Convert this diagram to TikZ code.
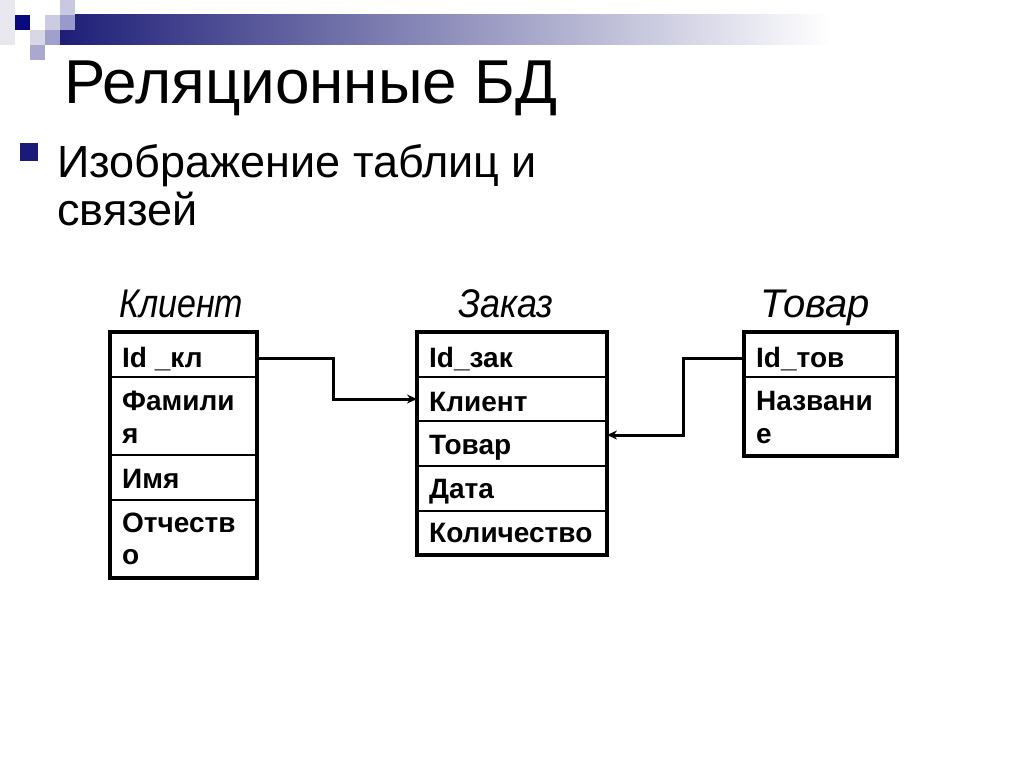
\documentclass[tikz,border=0pt]{standalone}
\usepackage{fontspec}
\usepackage{graphicx}
\setmainfont{Liberation Sans}
\usetikzlibrary{arrows.meta}
\definecolor{navy}{RGB}{26,26,120}
\definecolor{sqA}{RGB}{232,232,238}
\definecolor{sqB}{RGB}{10,10,128}
\definecolor{sqC}{RGB}{204,204,224}
\definecolor{sqD}{RGB}{200,200,224}
\definecolor{sqE}{RGB}{153,153,204}
\definecolor{sqF}{RGB}{216,216,228}
\definecolor{sqG}{RGB}{160,160,204}
\definecolor{sqH}{RGB}{168,168,208}
\definecolor{barL}{RGB}{30,30,120}
\definecolor{barM}{RGB}{190,190,210}
\begin{document}
\begin{tikzpicture}[x=1pt,y=-1pt,
  cell/.style={draw, line width=2pt, inner sep=0pt, outer sep=0pt, anchor=north west},
  frame/.style={draw, line width=3.5pt, inner sep=0pt, outer sep=0pt, anchor=north west},
  txt/.style={anchor=base west, inner sep=0pt, font=\bfseries\fontsize{28}{32}\selectfont},
  hdr/.style={anchor=base west, inner sep=0pt, font=\itshape\fontsize{40}{44}\selectfont},
  conn/.style={line width=3pt, -{Stealth[length=10pt,width=9pt]}}]
\useasboundingbox (0,0) rectangle (1024,768);
\fill[white] (0,0) rectangle (1024,768);
% decoration
\shade[left color=barL, middle color=barM, right color=white] (60,15) rectangle (830,45);
\fill[sqA] (0,0) rectangle (15,45);
\fill[sqB] (15,15) rectangle (30,30);
\fill[sqC] (45,15) rectangle (60,30);
\fill[sqD] (60,0) rectangle (75,15);
\fill[sqE] (60,15) rectangle (75,30);
\fill[sqF] (30,30) rectangle (45,45);
\fill[sqG] (45,30) rectangle (60,45);
\fill[sqH] (30,45) rectangle (45,60);
% title
\node[anchor=base west, inner sep=0pt, font=\fontsize{62}{66}\selectfont] (title) at (64,103) {Реляционные БД};
\node[fill=navy, minimum size=18pt, inner sep=0pt] (bul) at (29,152) {};
\node[anchor=base west, inner sep=0pt, font=\fontsize{45}{50}\selectfont] (b1) at (57,177) {Изображение таблиц и};
\node[anchor=base west, inner sep=0pt, font=\fontsize{45}{50}\selectfont] (b2) at (57,225) {связей};
% headers
\node[hdr] (hk) at (119,317) {\scalebox{0.85}[1]{Клиент}};
\node[hdr] (hz) at (458,317) {\scalebox{0.9}[1]{Заказ}};
\node[hdr] (ht) at (760,317) {Товар};
% Client table
\node[cell, minimum width=147pt, minimum height=45pt] (k1) at (110,332) {};
\node[cell, minimum width=147pt, minimum height=78pt] (k2) at (110,377) {};
\node[cell, minimum width=147pt, minimum height=45pt] (k3) at (110,455) {};
\node[cell, minimum width=147pt, minimum height=78pt] (k4) at (110,500) {};
\node[frame, minimum width=147pt, minimum height=246pt] (kf) at (110,332) {};
\node[txt] (k1t) at (122,367) {Id \_кл};
\node[txt] (k2t) at (122,410) {Фамили};
\node[txt] (k2u) at (122,443) {я};
\node[txt] (k3t) at (122,488) {Имя};
\node[txt] (k4t) at (122,532) {Отчеств};
\node[txt] (k4u) at (122,564) {о};
% Order table
\node[cell, minimum width=190pt, minimum height=45pt] (z1) at (417,332) {};
\node[cell, minimum width=190pt, minimum height=44pt] (z2) at (417,377) {};
\node[cell, minimum width=190pt, minimum height=45pt] (z3) at (417,421) {};
\node[cell, minimum width=190pt, minimum height=45pt] (z4) at (417,466) {};
\node[cell, minimum width=190pt, minimum height=44pt] (z5) at (417,511) {};
\node[frame, minimum width=190pt, minimum height=223pt] (zf) at (417,332) {};
\node[txt] (z1t) at (429,367) {Id\_зак};
\node[txt] (z2t) at (429,411) {Клиент};
\node[txt] (z3t) at (429,454) {Товар};
\node[txt] (z4t) at (429,498) {Дата};
\node[txt] (z5t) at (429,542) {Количество};
% Goods table
\node[cell, minimum width=153pt, minimum height=45pt] (t1) at (744,332) {};
\node[cell, minimum width=153pt, minimum height=79pt] (t2) at (744,377) {};
\node[frame, minimum width=153pt, minimum height=124pt] (tf) at (744,332) {};
\node[txt] (t1t) at (756,367) {Id\_тов};
\node[txt] (t2t) at (756,410) {Названи};
\node[txt] (t2u) at (756,443) {е};
% connectors
\draw[conn] ([yshift=-3.5pt]k1.east) -- ++(76,0) |- (z2.west);
\draw[conn] ([yshift=-3.5pt]t1.west) -- ++(-61,0) |- ([yshift=8.5pt]z3.east);
\end{tikzpicture}
\end{document}
